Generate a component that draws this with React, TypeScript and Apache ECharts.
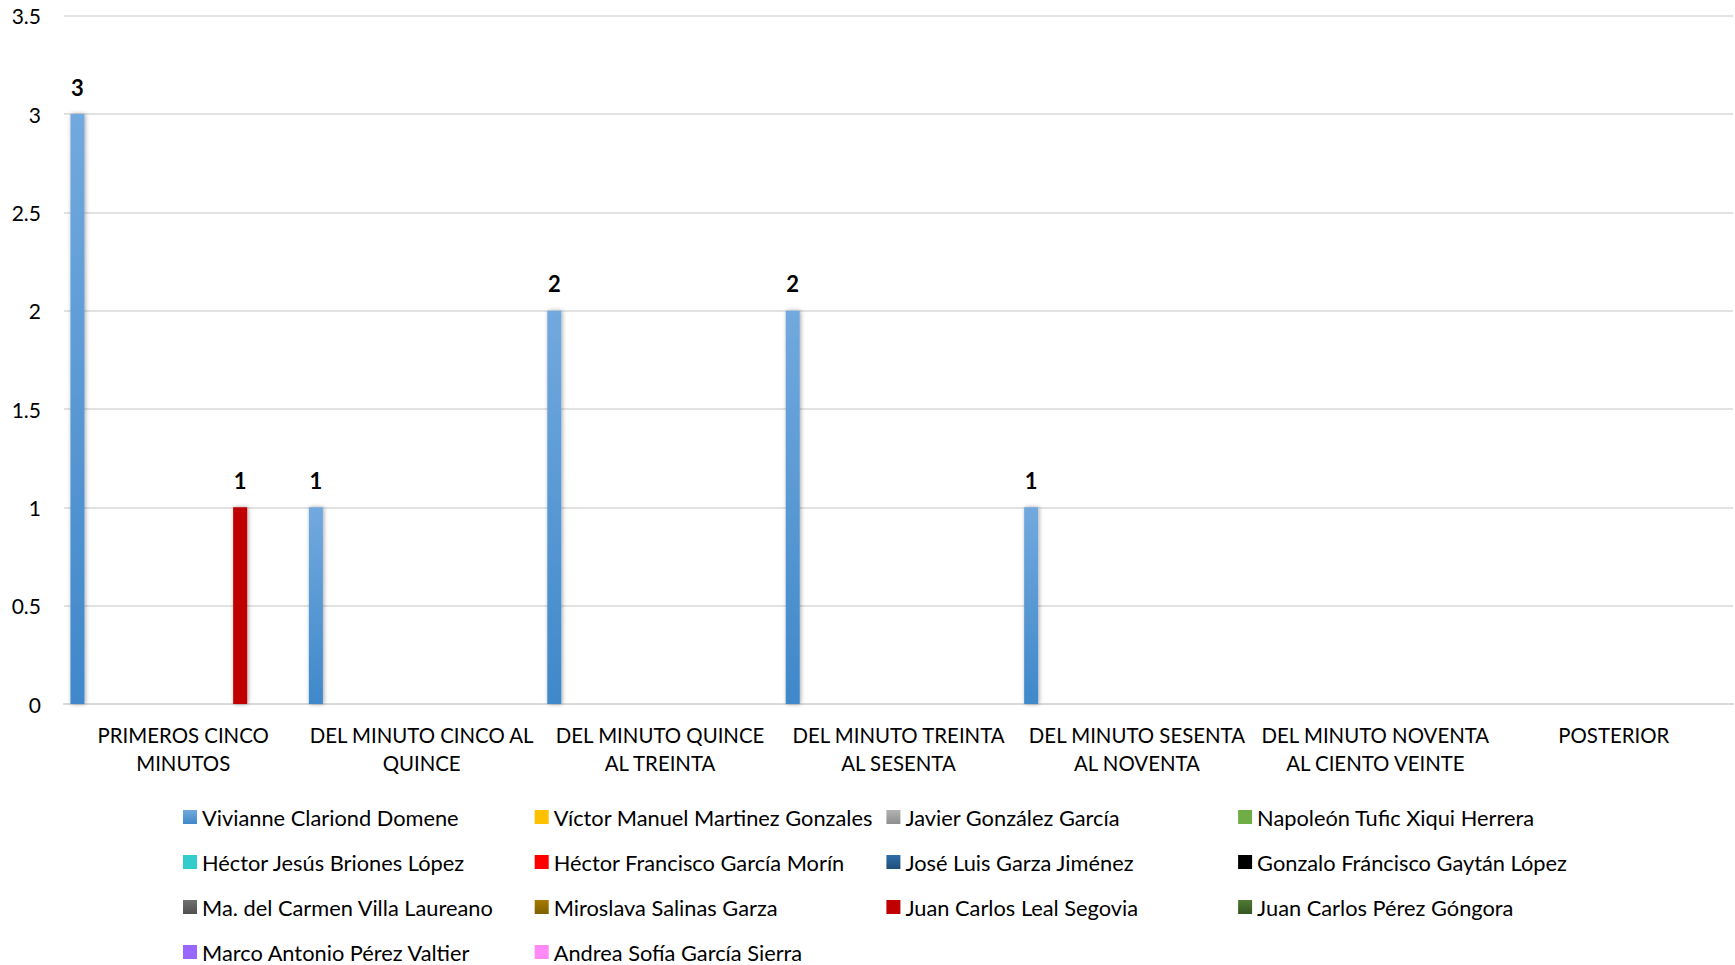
import React, { useEffect, useRef } from "react";
import * as echarts from "echarts";

const categories = [
  "PRIMEROS CINCO\nMINUTOS",
  "DEL MINUTO CINCO AL\nQUINCE",
  "DEL MINUTO QUINCE\nAL TREINTA",
  "DEL MINUTO TREINTA\nAL SESENTA",
  "DEL MINUTO SESENTA\nAL NOVENTA",
  "DEL MINUTO NOVENTA\nAL CIENTO VEINTE",
  "POSTERIOR",
];

const yTicks = { min: 0, max: 3.5, interval: 0.5 };

const seriesNames = [
  "Vivianne Clariond Domene",
  "Víctor Manuel Martinez Gonzales",
  "Javier González García",
  "Napoleón Tufic Xiqui Herrera",
  "Héctor Jesús Briones López",
  "Héctor Francisco García Morín",
  "José Luis Garza Jiménez",
  "Gonzalo Fráncisco Gaytán López",
  "Ma. del Carmen Villa Laureano",
  "Miroslava Salinas Garza",
  "Juan Carlos Leal Segovia",
  "Juan Carlos Pérez Góngora",
  "Marco Antonio Pérez Valtier",
  "Andrea Sofía García Sierra",
];

const vivianne = [3, 1, 2, 2, 1, 0, 0];
const victor = [0, 0, 0, 0, 0, 0, 0];
const javier = [0, 0, 0, 0, 0, 0, 0];
const napoleon = [0, 0, 0, 0, 0, 0, 0];
const hectorJesus = [0, 0, 0, 0, 0, 0, 0];
const hectorFrancisco = [0, 0, 0, 0, 0, 0, 0];
const joseLuis = [0, 0, 0, 0, 0, 0, 0];
const gonzalo = [0, 0, 0, 0, 0, 0, 0];
const maCarmen = [0, 0, 0, 0, 0, 0, 0];
const miroslava = [0, 0, 0, 0, 0, 0, 0];
const juanCarlosLeal = [1, 0, 0, 0, 0, 0, 0];
const juanCarlosPerez = [0, 0, 0, 0, 0, 0, 0];
const marco = [0, 0, 0, 0, 0, 0, 0];
const andrea = [0, 0, 0, 0, 0, 0, 0];

const seriesValues = [
  vivianne, victor, javier, napoleon, hectorJesus, hectorFrancisco, joseLuis,
  gonzalo, maCarmen, miroslava, juanCarlosLeal, juanCarlosPerez, marco, andrea,
];

// [top, bottom] colours
const seriesColors: [string, string][] = [
  ["#72A9DE", "#3F88CA"],
  ["#FFC000", "#FFC000"],
  ["#B2B2B2", "#8F8F8F"],
  ["#70AD47", "#70AD47"],
  ["#33CCCC", "#33CCCC"],
  ["#FF0000", "#FF0000"],
  ["#2F6EA8", "#1F4E79"],
  ["#000000", "#000000"],
  ["#707070", "#505050"],
  ["#A67C00", "#7F6000"],
  ["#C00000", "#C00000"],
  ["#4E7A32", "#375623"],
  ["#9966FF", "#9966FF"],
  ["#FF8AF5", "#FF8AF5"],
];

const FONT = "Lato, 'Liberation Sans', sans-serif";

export default function App() {
  const ref = useRef<HTMLDivElement>(null);

  useEffect(() => {
    document.body.style.margin = "0";
    if (!ref.current) return;
    const chart = echarts.init(ref.current, null, { renderer: "svg" });

    const color = (c: [string, string]) =>
      c[0] === c[1]
        ? c[0]
        : new echarts.graphic.LinearGradient(0, 0, 0, 1, [
            { offset: 0, color: c[0] },
            { offset: 1, color: c[1] },
          ]);

    const series = seriesNames.map((name, i) => ({
      name,
      type: "bar",
      data: seriesValues[i],
      barCategoryGap: "5.4%",
      barGap: "16%",
      itemStyle: {
        color: color(seriesColors[i]),
        shadowBlur: 4,
        shadowColor: "rgba(0,0,0,0.35)",
        shadowOffsetX: 1,
        shadowOffsetY: 0,
      },
      label: {
        show: true,
        position: "top",
        distance: 16,
        color: "#000",
        fontFamily: FONT,
        fontWeight: "bold",
        fontSize: 22,
        formatter: (p: any) => (p.value ? String(p.value) : ""),
      },
    }));

    const colPitch = 351.7;
    const rowPitch = 45;
    const legends = seriesNames.map((name, i) => ({
      data: [name],
      left: 183 + (i % 4) * colPitch,
      top: 817 - 12 + Math.floor(i / 4) * rowPitch,
      orient: "horizontal",
      padding: 0,
      icon: "rect",
      itemWidth: 14,
      itemHeight: 14,
      textStyle: {
        fontFamily: FONT,
        fontSize: 21.8,
        lineHeight: 24,
        color: "#000",
      },
    }));

    chart.setOption({
      animation: false,
      backgroundColor: "#ffffff",
      grid: { left: 64, right: 2, top: 15.7, bottom: 261, containLabel: false },
      xAxis: {
        type: "category",
        data: categories,
        axisTick: { show: false },
        axisLine: { show: true, lineStyle: { color: "#D9D9D9", width: 2 } },
        axisLabel: {
          interval: 0,
          margin: 17,
          color: "#000",
          fontFamily: FONT,
          fontSize: 20.4,
          lineHeight: 28,
          align: "center",
        },
      },
      yAxis: {
        type: "value",
        min: yTicks.min,
        max: yTicks.max,
        interval: yTicks.interval,
        axisLine: { show: false },
        axisTick: { show: false },
        splitLine: { lineStyle: { color: "#D9D9D9", width: 1.5 } },
        axisLabel: {
          margin: 23,
          color: "#000",
          fontFamily: FONT,
          fontSize: 21,
        },
      },
      legend: legends,
      series,
    });

    return () => chart.dispose();
  }, []);

  return <div ref={ref} style={{ width: 1735, height: 965 }} />;
}
